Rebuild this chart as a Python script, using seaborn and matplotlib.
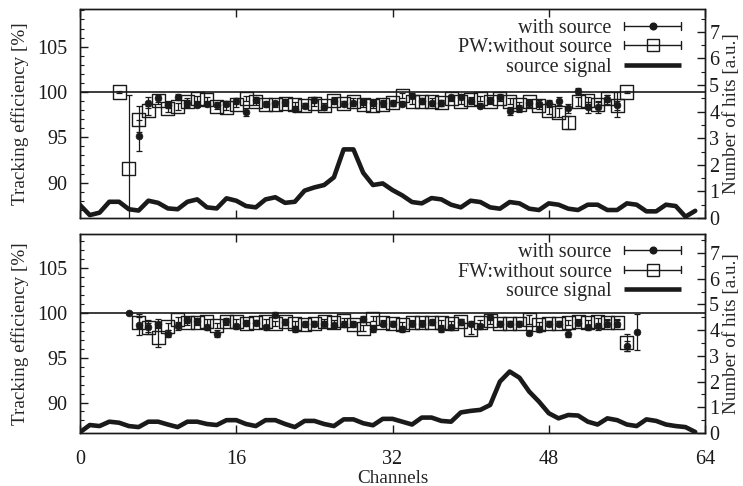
import numpy as np
import pandas as pd
import matplotlib
matplotlib.use("Agg")
import matplotlib.pyplot as plt
import seaborn as sns
from matplotlib.legend_handler import HandlerBase
from matplotlib.lines import Line2D
from matplotlib.ticker import MultipleLocator

sns.set_theme(style="ticks")
plt.rcParams["font.family"] = ["Liberation Serif", "DejaVu Serif"]

# ---------------- data ----------------
channels = list(range(64))
xticks = [0, 16, 32, 48, 64]
left_ticks = [90, 95, 100, 105]
right_ticks = [0, 1, 2, 3, 4, 5, 6, 7]

# PW panel
pw_with_ch = list(range(6, 56))
pw_with_val = [95.2, 98.8, 99.3, 98.6, 99.5, 98.75, 98.6, 98.7, 98.6, 98.7,
               99.0, 97.8, 99.1, 98.7, 98.75, 98.9, 98.1, 98.5, 99.1, 98.3,
               99.0, 98.7, 98.75, 98.9, 98.8, 98.8, 98.75, 98.7, 99.6, 99.0,
               98.75, 98.8, 99.4, 99.5, 99.0, 98.5, 99.1, 99.5, 97.9, 98.2,
               98.75, 98.7, 98.75, 99.0, 98.2, 100.1, 98.3, 98.3, 99.2, 98.6]
pw_with_err = [1.7, 0.6, 0.4, 0.4, 0.3, 0.4, 0.3, 0.3, 0.3, 0.3,
               0.3, 0.4, 0.3, 0.3, 0.3, 0.3, 0.3, 0.3, 0.3, 0.3,
               0.3, 0.3, 0.3, 0.3, 0.3, 0.3, 0.3, 0.3, 0.3, 0.3,
               0.3, 0.3, 0.3, 0.3, 0.3, 0.3, 0.3, 0.3, 0.4, 0.4,
               0.4, 0.4, 0.4, 0.4, 0.5, 0.3, 0.6, 0.6, 0.5, 1.4]
pw_wo_ch = list(range(4, 57))
pw_wo_val = [100.0, 91.6, 97.0, 98.0, 99.1, 98.2, 98.4, 98.9, 99.3, 99.2,
             98.4, 98.3, 98.6, 99.3, 98.9, 98.6, 98.6, 98.75, 98.6, 98.5,
             98.7, 98.5, 99.1, 98.75, 99.0, 98.6, 98.5, 98.6, 98.8, 99.6,
             99.0, 99.0, 99.0, 98.8, 99.3, 99.0, 99.2, 99.3, 99.0, 99.3,
             99.0, 98.6, 98.9, 98.5, 98.0, 97.7, 96.6, 98.9, 99.1, 98.6,
             99.3, 98.5, 100.0]
pw_wo_err = [0.1, 8.1, 1.4, 0.5, 0.4, 0.4, 0.4, 0.4, 0.3, 0.3,
             0.3, 0.3, 0.3, 0.3, 0.3, 0.3, 0.3, 0.3, 0.3, 0.3,
             0.3, 0.3, 0.3, 0.3, 0.3, 0.3, 0.3, 0.3, 0.3, 0.3,
             0.3, 0.3, 0.3, 0.3, 0.3, 0.3, 0.3, 0.3, 0.3, 0.3,
             0.3, 0.3, 0.3, 0.4, 0.4, 0.5, 0.7, 0.5, 0.4, 0.4,
             0.4, 0.5, 0.1]
pw_signal = [0.49, 0.11, 0.2, 0.61, 0.61, 0.33, 0.28, 0.65, 0.57, 0.36,
             0.33, 0.61, 0.7, 0.4, 0.36, 0.74, 0.65, 0.45, 0.4, 0.7,
             0.78, 0.57, 0.61, 1.03, 1.15, 1.24, 1.53, 2.58, 2.58, 1.7,
             1.24, 1.3, 1.05, 0.85, 0.6, 0.55, 0.75, 0.7, 0.5, 0.4,
             0.65, 0.6, 0.4, 0.35, 0.6, 0.55, 0.35, 0.3, 0.55, 0.5,
             0.35, 0.3, 0.5, 0.5, 0.3, 0.3, 0.55, 0.5, 0.25, 0.25,
             0.5, 0.45, 0.05, 0.27]

# FW panel
fw_with_ch = list(range(5, 58))
fw_with_val = [100.0, 98.7, 98.4, 98.8, 97.7, 98.5, 99.2, 99.1, 98.4, 97.7,
               99.1, 98.5, 98.9, 98.9, 98.4, 99.8, 99.0, 98.2, 98.8, 98.8,
               98.8, 98.6, 98.8, 98.8, 99.3, 98.2, 98.8, 98.8, 98.2, 98.8,
               98.8, 99.0, 98.2, 98.4, 99.0, 98.8, 98.5, 99.55, 98.8, 98.8,
               98.8, 97.8, 98.2, 98.8, 98.8, 97.7, 98.9, 98.4, 98.5, 98.8,
               98.8, 96.3, 97.9]
fw_with_err = [0.1, 1.2, 0.8, 0.5, 0.4, 0.4, 0.3, 0.3, 0.3, 0.4,
               0.3, 0.3, 0.3, 0.3, 0.3, 0.3, 0.3, 0.3, 0.3, 0.3,
               0.3, 0.3, 0.3, 0.3, 0.3, 0.3, 0.3, 0.3, 0.3, 0.3,
               0.3, 0.3, 0.3, 0.3, 0.3, 0.3, 0.3, 0.3, 0.3, 0.3,
               0.3, 0.3, 0.3, 0.3, 0.3, 0.4, 0.3, 0.3, 0.4, 0.4,
               0.4, 0.6, 2.0]
fw_wo_ch = list(range(6, 57))
fw_wo_val = [98.9, 98.4, 97.3, 98.5, 99.25, 98.9, 98.9, 99.0, 98.6, 99.0,
             99.0, 98.8, 98.9, 99.0, 98.8, 99.0, 98.8, 98.7, 98.8, 99.0,
             98.9, 99.1, 98.7, 98.3, 99.4, 98.9, 98.8, 98.7, 98.9, 98.9,
             98.9, 98.9, 98.8, 99.0, 98.2, 98.9, 99.1, 98.8, 98.8, 98.8,
             99.3, 98.7, 98.8, 98.8, 98.9, 99.0, 98.9, 99.0, 98.9, 98.9,
             96.7]
fw_wo_err = [0.6, 0.5, 1.1, 0.4, 0.3, 0.3, 0.3, 0.3, 0.3, 0.3,
             0.3, 0.3, 0.3, 0.3, 0.3, 0.3, 0.3, 0.3, 0.3, 0.3,
             0.3, 0.3, 0.3, 0.3, 0.3, 0.3, 0.3, 0.3, 0.3, 0.3,
             0.3, 0.3, 0.3, 0.3, 0.5, 0.3, 0.3, 0.3, 0.3, 0.3,
             0.5, 0.3, 0.3, 0.3, 0.3, 0.3, 0.3, 0.4, 0.4, 0.4,
             0.9]
fw_signal = [0.03, 0.31, 0.27, 0.44, 0.4, 0.27, 0.23, 0.44, 0.44, 0.33,
             0.23, 0.44, 0.44, 0.35, 0.31, 0.5, 0.5, 0.35, 0.27, 0.5,
             0.5, 0.35, 0.23, 0.47, 0.47, 0.35, 0.27, 0.53, 0.53, 0.38,
             0.3, 0.55, 0.55, 0.44, 0.33, 0.6, 0.6, 0.47, 0.44, 0.8,
             0.86, 0.9, 1.09, 2.0, 2.39, 2.15, 1.61, 1.22, 0.77, 0.57,
             0.7, 0.68, 0.44, 0.33, 0.57, 0.5, 0.33, 0.27, 0.53, 0.47,
             0.33, 0.27, 0.23, 0.04]

FS = 14.5
FS_LAB = 13.8


class HErrHandler(HandlerBase):
    """gnuplot-style legend sample: |----o----|"""
    def __init__(self, marker=None, ms=0, mfc="k", lw=1.0, bars=True):
        super().__init__()
        self.marker, self.ms, self.mfc, self.lw, self.bars = marker, ms, mfc, lw, bars

    def create_artists(self, legend, orig_handle, xdescent, ydescent,
                       width, height, fontsize, trans):
        y = height / 2 - ydescent
        x0, x1 = -xdescent, width - xdescent
        c = 0.28 * height
        arts = [Line2D([x0, x1], [y, y], color="k", lw=self.lw,
                       solid_capstyle="butt")]
        if self.bars:
            arts += [Line2D([x0, x0], [y - c, y + c], color="k", lw=1.0),
                     Line2D([x1, x1], [y - c, y + c], color="k", lw=1.0)]
        if self.marker:
            arts.append(Line2D([(x0 + x1) / 2], [y], marker=self.marker,
                               ms=self.ms, mfc=self.mfc, mec="k", mew=1.0,
                               ls="none"))
        for a in arts:
            a.set_transform(trans)
        return arts


fig = plt.figure(figsize=(7.43, 4.86), dpi=100)
W, H = 743, 486


def add_axes(l, t, r, b):
    return fig.add_axes([l / W, 1 - b / H, (r - l) / W, (b - t) / H])


def panel(ax, w_ch, w_val, w_err, o_ch, o_val, o_err, sig, o_label,
          ylim, rylim, bottom):
    ax.axhline(100, color="k", lw=1.2, zorder=1)
    ax.errorbar(o_ch, o_val, yerr=o_err, fmt="none", ecolor="k",
                elinewidth=0.9, capsize=2.3, capthick=0.9, zorder=2)
    sns.scatterplot(x=o_ch, y=o_val, marker="s", s=88, facecolors="none",
                    edgecolor="k", linewidth=1.0, ax=ax, zorder=3)
    ax.errorbar(w_ch, w_val, yerr=w_err, fmt="none", ecolor="k",
                elinewidth=0.9, capsize=2.3, capthick=0.9, zorder=4)
    sns.scatterplot(x=w_ch, y=w_val, marker="o", s=24, color="k",
                    edgecolor="k", linewidth=0.5, ax=ax, zorder=5)
    ax.set_xlim(0, 64)
    ax.set_ylim(*ylim)
    ax.set_xticks(xticks)
    ax.set_yticks(left_ticks)
    ax.yaxis.set_minor_locator(MultipleLocator(1))
    ax.tick_params(axis="both", which="both", direction="in", colors="k",
                   labelsize=FS)
    ax.tick_params(axis="x", which="major", length=6, width=1, top=True,
                   pad=12 if bottom else 3, labelbottom=bottom)
    ax.tick_params(axis="y", which="major", length=6, width=1, pad=9,
                   right=False)
    ax.tick_params(axis="y", which="minor", length=3, width=0.8, right=False)
    ax.set_ylabel("Tracking efficiency [%]", fontsize=FS_LAB, labelpad=6)
    ax.set_xlabel("Channels" if bottom else "", fontsize=FS_LAB, labelpad=1)
    for s in ax.spines.values():
        s.set_linewidth(1.0)
        s.set_color("k")

    ax2 = ax.twinx()
    sns.lineplot(x=channels, y=sig, ax=ax2, color="k", lw=3.3)
    ax2.set_ylim(*rylim)
    ax2.set_yticks(right_ticks)
    ax2.yaxis.set_minor_locator(MultipleLocator(0.5))
    ax2.tick_params(axis="y", which="major", direction="in", length=6,
                    width=1, labelsize=FS, pad=3, colors="k")
    ax2.tick_params(axis="y", which="minor", direction="in", length=3,
                    width=0.8, colors="k")
    ax2.set_ylabel("Number of hits [a.u.]", fontsize=FS_LAB, labelpad=3)
    ax2.set_xlim(0, 64)
    for s in ax2.spines.values():
        s.set_linewidth(1.0)
        s.set_color("k")

    hw = Line2D([], [], label="with source")
    ho = Line2D([], [], label=o_label)
    hs = Line2D([], [], label="source signal")
    ax2.legend(handles=[hw, ho, hs], loc="upper right",
               bbox_to_anchor=(0.962, 0.955), frameon=False, fontsize=FS,
               markerfirst=False, handlelength=2.85, handletextpad=0.6,
               labelspacing=0.02, borderpad=0, borderaxespad=0,
               handler_map={hw: HErrHandler(marker="o", ms=4.8, mfc="k"),
                            ho: HErrHandler(marker="s", ms=9.0, mfc="none"),
                            hs: HErrHandler(lw=3.3, bars=False)})
    return ax, ax2


ax_top = add_axes(80, 9.5, 705, 218)
panel(ax_top, pw_with_ch, pw_with_val, pw_with_err, pw_wo_ch, pw_wo_val,
      pw_wo_err, pw_signal, "PW:without source", (86.1, 109.1), (0, 7.84),
      False)

ax_bot = add_axes(80, 234, 705, 433)
panel(ax_bot, fw_with_ch, fw_with_val, fw_with_err, fw_wo_ch, fw_wo_val,
      fw_wo_err, fw_signal, "FW:without source", (86.6, 108.8), (0, 7.74),
      True)

fig.savefig("out.png", dpi=100)
